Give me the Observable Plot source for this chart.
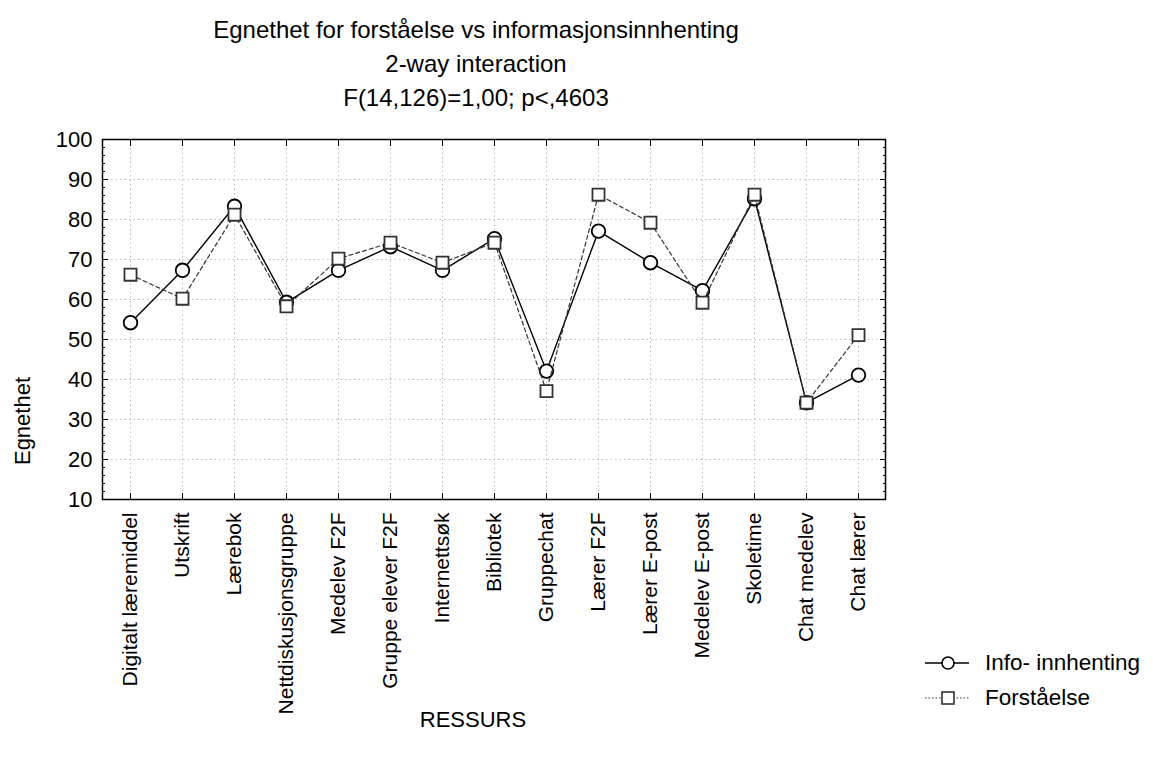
<!DOCTYPE html>
<html>
<head>
<meta charset="utf-8">
<script src="https://cdn.jsdelivr.net/npm/d3@7"></script>
<script src="https://cdn.jsdelivr.net/npm/@observablehq/plot@0.6"></script>
<style>
  body { margin: 0; background: #fff; font-family: "Liberation Sans", Arial, sans-serif; color: #000; }
  #wrap { position: relative; width: 1153px; height: 758px; overflow: hidden; }
  #wrap svg.chart { position: absolute; left: 0; top: 0; }
  .title { position: absolute; left: 0; width: 952px; text-align: center; font-size: 24px; line-height: 34px; top: 13px; }
  .ylab { position: absolute; left: 23px; top: 421px; font-size: 22px; transform: translate(-50%, -50%) rotate(-90deg); white-space: nowrap; }
  .xlab { position: absolute; left: 0; width: 946px; text-align: center; font-size: 22px; top: 707px; }
  .legend { position: absolute; left: 925px; top: 645px; font-size: 22.5px; }
  .legend .row { display: flex; align-items: center; height: 35px; }
  .legend svg { margin-right: 16px; }
</style>
</head>
<body>
<div id="wrap"></div>
<script>
const titleLines = ["Egnethet for forståelse vs informasjonsinnhenting", "2-way interaction", "F(14,126)=1,00; p<,4603"];
const yLabel = "Egnethet";
const xLabel = "RESSURS";
const seriesNames = ["Info- innhenting", "Forståelse"];
const categories = ["Digitalt læremiddel", "Utskrift", "Lærebok", "Nettdiskusjonsgruppe", "Medelev F2F", "Gruppe elever F2F", "Internettsøk", "Bibliotek", "Gruppechat", "Lærer F2F", "Lærer E-post", "Medelev E-post", "Skoletime", "Chat medelev", "Chat lærer"];
const infoValues  = [54.2, 67.3, 83.3, 59.3, 67.3, 73.2, 67.3, 75.2, 42.1, 77.1, 69.2, 62.2, 85.2, 34.2, 41.1];
const forstValues = [66.2, 60.2, 81.2, 58.3, 70.2, 74.2, 69.2, 74.2, 37.1, 86.2, 79.2, 59.2, 86.2, 34.2, 51.1];
const yTicks = [10, 20, 30, 40, 50, 60, 70, 80, 90, 100];
const yMinorTicks = d3.range(10, 101, 2);

const rows = categories.map((c, i) => ({cat: c, info: infoValues[i], forst: forstValues[i]}));

const wrap = document.getElementById("wrap");

const chart = Plot.plot({
  width: 1153, height: 758,
  marginLeft: 102, marginRight: 268, marginTop: 139, marginBottom: 259,
  style: {fontFamily: "'Liberation Sans', Arial, sans-serif", fontSize: "22px", color: "#000", background: "transparent", overflow: "visible"},
  x: {type: "point", domain: categories, padding: 0.5, label: null},
  y: {domain: [10, 100], label: null},
  marks: [
    Plot.gridY(yTicks, {stroke: "#bdbdbd", strokeOpacity: 1, strokeDasharray: "1.5,3"}),
    Plot.gridX(categories, {stroke: "#bdbdbd", strokeOpacity: 1, strokeDasharray: "1.5,3"}),
    Plot.axisY(yTicks, {anchor: "left", tickSize: 0, tickPadding: 10, label: null, fill: "#000"}),
    Plot.axisY(yTicks, {anchor: "left", tickSize: -6, text: null, label: null, stroke: "#000"}),
    Plot.axisY(yMinorTicks, {anchor: "left", tickSize: -3, text: null, label: null, stroke: "#000"}),
    Plot.axisY(yTicks, {anchor: "right", tickSize: -6, text: null, label: null, stroke: "#000"}),
    Plot.axisY(yMinorTicks, {anchor: "right", tickSize: -3, text: null, label: null, stroke: "#000"}),
    Plot.axisX({anchor: "bottom", tickSize: 0, tickPadding: 13, tickRotate: -90, label: null, fill: "#000", fontSize: 21}),
    Plot.axisX({anchor: "bottom", tickSize: -6, text: null, label: null, stroke: "#000"}),
    Plot.axisX({anchor: "top", tickSize: -6, text: null, label: null, stroke: "#000"}),
    Plot.frame({stroke: "#000", strokeWidth: 1.5}),
    Plot.line(rows, {x: "cat", y: "info", stroke: "#000", strokeWidth: 1.4}),
    Plot.dot(rows, {x: "cat", y: "info", r: 6.8, fill: "#fff", stroke: "#000", strokeWidth: 1.8}),
    Plot.line(rows, {x: "cat", y: "forst", stroke: "#333", strokeWidth: 1.2, strokeDasharray: "4,3"}),
    Plot.dot(rows, {x: "cat", y: "forst", symbol: "square", r: 6.8, fill: "#fff", stroke: "#333", strokeWidth: 1.8})
  ]
});
chart.classList.add("chart");
wrap.appendChild(chart);

const title = document.createElement("div");
title.className = "title";
title.innerHTML = titleLines.map(t => `<div>${t.replace(/</g, "&lt;")}</div>`).join("");
wrap.appendChild(title);

const yl = document.createElement("div");
yl.className = "ylab";
yl.textContent = yLabel;
wrap.appendChild(yl);

const xl = document.createElement("div");
xl.className = "xlab";
xl.textContent = xLabel;
wrap.appendChild(xl);

const legend = document.createElement("div");
legend.className = "legend";
const sampleSvgs = [
  `<svg width="44" height="20"><line x1="0" y1="10" x2="44" y2="10" stroke="#000" stroke-width="1.4"/><circle cx="23" cy="10" r="6" fill="#fff" stroke="#000" stroke-width="1.6"/></svg>`,
  `<svg width="44" height="20"><line x1="0" y1="10" x2="44" y2="10" stroke="#333" stroke-width="1.2" stroke-dasharray="1.5,2"/><rect x="17" y="4" width="12" height="12" fill="#fff" stroke="#333" stroke-width="1.6"/></svg>`
];
legend.innerHTML = seriesNames.map((n, i) => `<div class="row">${sampleSvgs[i]}<span>${n}</span></div>`).join("");
wrap.appendChild(legend);
</script>
</body>
</html>
